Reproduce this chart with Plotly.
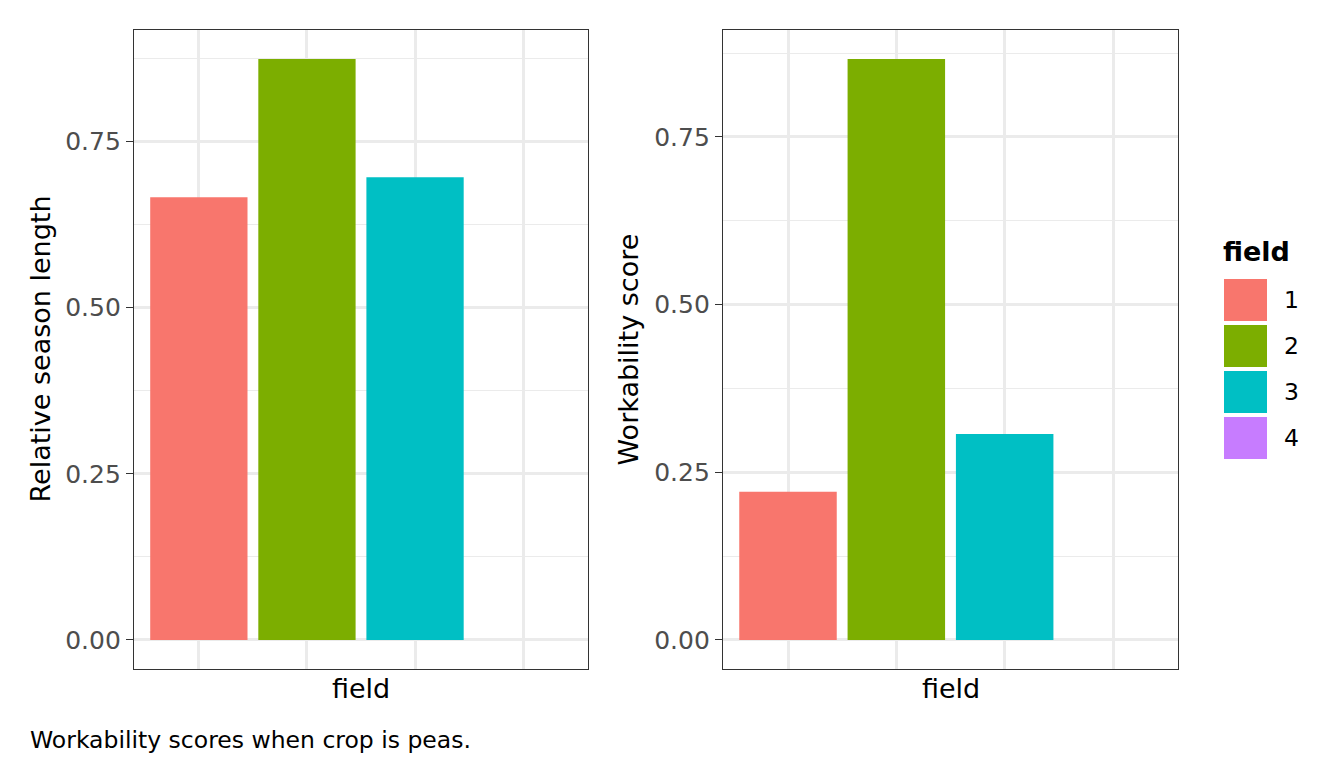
import plotly.graph_objects as go

# ---- data ----
fields = ["1", "2", "3", "4"]
season_length = [0.666, 0.874, 0.696, None]
workability = [0.221, 0.866, 0.307, None]
field_colors = ["#F8766D", "#7CAE00", "#00BFC4", "#C77CFF"]
y_ticks = [0.0, 0.25, 0.50, 0.75]
y_minor = [0.125, 0.375, 0.625, 0.875]
caption = "Workability scores when crop is peas."

FONT = "DejaVu Sans"
W, H = 1344, 768
OFF = 8  # page body margin


def px(x):
    return (x - OFF) / W


def py(y):
    return 1 - (y - OFF) / H


def yrange(vals):
    v = [x for x in vals if x is not None]
    lo, hi = min(0, min(v)), max(v)
    pad = (hi - lo) * 0.05
    return [lo - pad, hi + pad]


fig = go.Figure()
fig.add_trace(go.Bar(x=fields, y=season_length, width=0.9,
                     marker=dict(color=field_colors, line=dict(width=0)),
                     xaxis="x", yaxis="y", showlegend=False))
fig.add_trace(go.Bar(x=fields, y=workability, width=0.9,
                     marker=dict(color=field_colors, line=dict(width=0)),
                     xaxis="x2", yaxis="y2", showlegend=False))

px_dom = [(134, 588), (723, 1178)]
y_dom = [py(669), py(30)]


def xax(dom):
    return dict(domain=[px(dom[0]), px(dom[1])], type="category",
                categoryorder="array", categoryarray=fields,
                range=[-0.6, len(fields) - 0.4], showticklabels=False, ticks="",
                showgrid=True, gridcolor="#EBEBEB", gridwidth=2.7,
                showline=True, mirror=True, linecolor="#333333", linewidth=1.4,
                zeroline=False, fixedrange=True)


def yax(vals, anchor):
    return dict(domain=y_dom, anchor=anchor, range=yrange(vals),
                tickvals=y_ticks, tickformat=".2f", ticks="outside", ticklen=7,
                tickwidth=1.4, tickcolor="#333333",
                tickfont=dict(family=FONT, size=25, color="#4D4D4D"),
                showgrid=True, gridcolor="#EBEBEB", gridwidth=2.7,
                minor=dict(tickvals=y_minor, showgrid=True, gridcolor="#EBEBEB",
                           gridwidth=1.4, ticks=""),
                showline=True, mirror=True, linecolor="#333333", linewidth=1.4,
                zeroline=False, automargin=False)


TITLE = 27
ann = []
# axis titles
for dom in px_dom:
    ann.append(dict(text="field", x=px((dom[0] + dom[1]) / 2), y=py(688),
                    xref="paper", yref="paper", showarrow=False,
                    font=dict(family=FONT, size=TITLE, color="black"),
                    xanchor="center", yanchor="middle"))
ann.append(dict(text="Relative season length", x=px(40), y=py(349.5),
                xref="paper", yref="paper", showarrow=False, textangle=-90,
                font=dict(family=FONT, size=TITLE, color="black"),
                xanchor="center", yanchor="middle"))
ann.append(dict(text="Workability score", x=px(628), y=py(349.5),
                xref="paper", yref="paper", showarrow=False, textangle=-90,
                font=dict(family=FONT, size=TITLE, color="black"),
                xanchor="center", yanchor="middle"))
# caption
ann.append(dict(text=caption, x=px(28), y=py(740), xref="paper", yref="paper",
                showarrow=False, font=dict(family=FONT, size=23.5, color="black"),
                xanchor="left", yanchor="middle"))
# legend
ann.append(dict(text="<b>field</b>", x=px(1221), y=py(251), xref="paper",
                yref="paper", showarrow=False,
                font=dict(family=FONT, size=TITLE, color="black"),
                xanchor="left", yanchor="middle"))
shapes = []
for i, (f, c) in enumerate(zip(fields, field_colors)):
    top = 279 + 46 * i
    shapes.append(dict(type="rect", xref="paper", yref="paper",
                       x0=px(1224), x1=px(1267), y0=py(top + 42), y1=py(top),
                       fillcolor=c, line=dict(width=0)))
    ann.append(dict(text=f, x=px(1282), y=py(top + 21), xref="paper",
                    yref="paper", showarrow=False,
                    font=dict(family=FONT, size=23.5, color="black"),
                    xanchor="left", yanchor="middle"))

fig.update_layout(
    width=W, height=H, margin=dict(l=0, r=0, t=0, b=0),
    paper_bgcolor="white", plot_bgcolor="white",
    xaxis=xax(px_dom[0]), yaxis=yax(season_length, "x"),
    xaxis2=xax(px_dom[1]), yaxis2=yax(workability, "x2"),
    annotations=ann, shapes=shapes, showlegend=False, bargap=0.1,
    font=dict(family=FONT),
)

fig.write_html("out.html")
